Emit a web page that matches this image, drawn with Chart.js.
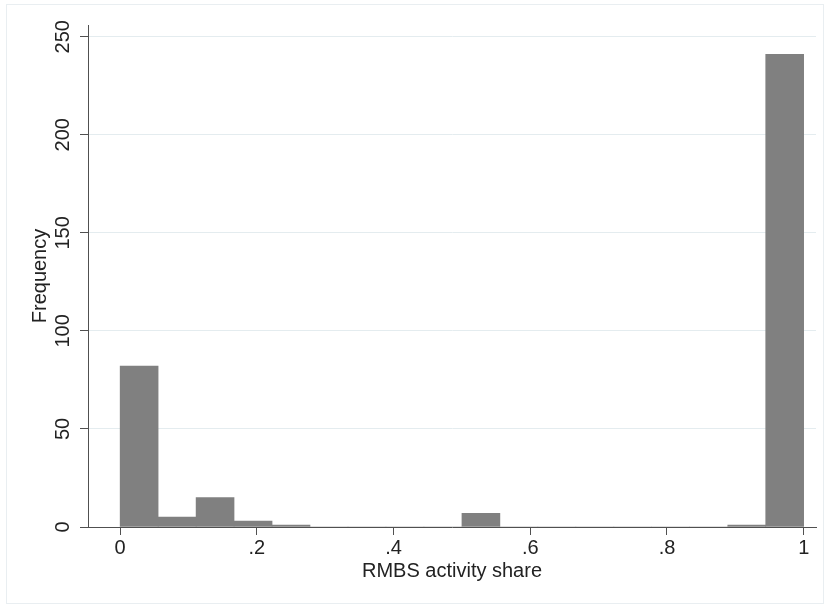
<!DOCTYPE html>
<html>
<head>
<meta charset="utf-8">
<script src="https://cdn.jsdelivr.net/npm/chart.js@4.4.1/dist/chart.umd.min.js"></script>
<style>
html, body { margin:0; padding:0; background:#fff; }
</style>
</head>
<body>
<canvas id="histo" width="831" height="607"></canvas>
<script>
// bins of the histogram (lower edges), width 1/18
const binStarts = [0, .0556, .1111, .1667, .2222, .2778, .3333, .3889, .4444, .5, .5556, .6111, .6667, .7222, .7778, .8333, .8889, .9444]
const binWidth = .0556
const frequencies = [82, 5, 15, 3, 1, 0, 0, 0, 0, 7, 0, 0, 0, 0, 0, 0, 1, 241]
const xTicks = [0, .2, .4, .6, .8, 1]
const yTicks = [0, 50, 100, 150, 200, 250]

const police = { family: 'Liberation Sans, Arial, sans-serif', size: 20, lineHeight: 1.2 }
const encre = '#222'
const axe = '#505050'

function libelle(v){
  if (v === 0 || v === 1) return String(v)
  return String(v).replace('0.', '.')
}

const cadre = {
  id: 'cadre',
  beforeDraw(chart){
    const c = chart.ctx
    c.save()
    c.fillStyle = '#fff'
    c.fillRect(0, 0, chart.width, chart.height)
    c.strokeStyle = '#e9eef1'
    c.lineWidth = 1
    c.strokeRect(6.5, 4.5, chart.width - 14, chart.height - 8)
    c.restore()
  }
}

new Chart(document.getElementById('histo'), {
  type: 'bar',
  data: {
    datasets: [{
      data: binStarts.map((s, i) => ({ x: s + binWidth / 2, y: frequencies[i] })),
      backgroundColor: '#808080',
      borderWidth: 0,
      barPercentage: 1,
      categoryPercentage: 1
    }]
  },
  options: {
    responsive: false,
    animation: false,
    devicePixelRatio: 1,
    layout: { padding: { left: 0, top: 25, right: 15, bottom: 0 } },
    plugins: { legend: { display: false }, tooltip: { enabled: false } },
    scales: {
      x: {
        type: 'linear',
        offset: false,
        min: -.047,
        max: 1.018,
        afterBuildTicks: s => { s.ticks = xTicks.map(v => ({ value: v })) },
        afterFit: s => { s.height = 80 },
        ticks: { callback: v => libelle(v), font: police, color: encre, padding: 1, maxRotation: 0 },
        grid: { offset: false, drawOnChartArea: false, drawTicks: true, tickLength: 8, tickColor: axe },
        border: { color: axe, width: 1 },
        title: { display: true, text: 'RMBS activity share', font: police, color: encre, padding: { top: 0, bottom: 24 } }
      },
      y: {
        type: 'linear',
        min: 0,
        max: 256,
        afterBuildTicks: s => { s.ticks = yTicks.map(v => ({ value: v })) },
        afterFit: s => { s.width = 88 },
        ticks: { minRotation: 90, maxRotation: 90, crossAlign: 'center', padding: 0, font: police, color: encre },
        grid: { color: '#e4ecef', tickColor: axe, tickLength: 8 },
        border: { color: axe, width: 1 },
        title: { display: true, text: 'Frequency', font: police, color: encre, padding: { top: 28, bottom: 0 } }
      }
    }
  },
  plugins: [cadre]
})
</script>
</body>
</html>
